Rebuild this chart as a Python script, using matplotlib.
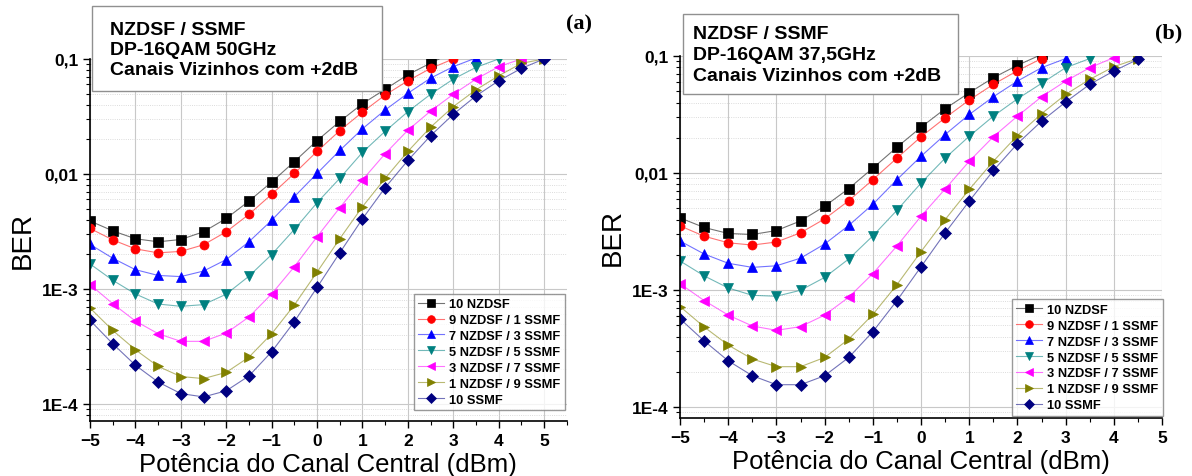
import matplotlib
matplotlib.use("Agg")
import matplotlib.pyplot as plt
from matplotlib.colors import to_rgba
from matplotlib.patches import Rectangle
from matplotlib.ticker import FixedLocator, LogLocator, NullFormatter, MultipleLocator

plt.rcParams['font.family'] = ['Liberation Sans', 'DejaVu Sans']

power = [-5, -4.5, -4, -3.5, -3, -2.5, -2, -1.5, -1, -0.5, 0, 0.5, 1, 1.5, 2, 2.5, 3, 3.5, 4, 4.5, 5]

series_names = ["10 NZDSF", "9 NZDSF / 1 SSMF", "7 NZDSF / 3 SSMF", "5 NZDSF / 5 SSMF",
                "3 NZDSF / 7 SSMF", "1 NZDSF / 9 SSMF", "10 SSMF"]
colors = ['black', 'red', 'blue', '#008080', 'magenta', '#808000', '#000080']
markers = ['s', 'o', '^', 'v', '<', '>', 'D']

# (a) DP-16QAM 50GHz
ber_a_10nz = [3.9e-3, 3.2e-3, 2.73e-3, 2.57e-3, 2.69e-3, 3.14e-3, 4.1e-3, 5.8e-3, 8.5e-3,
              0.0128, 0.0195, 0.0286, 0.0408, 0.0545, 0.073, 0.092, 0.115]
ber_a_9nz = [3.36e-3, 2.67e-3, 2.23e-3, 2.06e-3, 2.12e-3, 2.42e-3, 3.14e-3, 4.45e-3, 6.65e-3,
             0.0101, 0.0157, 0.0238, 0.0345, 0.0486, 0.0646, 0.0828, 0.1]
ber_a_7nz = [2.44e-3, 1.85e-3, 1.47e-3, 1.31e-3, 1.28e-3, 1.43e-3, 1.80e-3, 2.57e-3, 3.95e-3,
             6.34e-3, 0.0101, 0.016, 0.0247, 0.036, 0.0503, 0.0681, 0.0857, 0.102]
ber_a_5nz = [1.65e-3, 1.19e-3, 9.04e-4, 7.39e-4, 7.06e-4, 7.3e-4, 9.0e-4, 1.29e-3, 1.99e-3,
             3.29e-3, 5.62e-3, 9.16e-3, 0.0154, 0.0235, 0.0348, 0.0493, 0.0668, 0.0845, 0.1]
ber_a_3nz = [1.09e-3, 7.45e-4, 5.26e-4, 4.08e-4, 3.5e-4, 3.5e-4, 4.13e-4, 5.7e-4, 9.04e-4,
             1.56e-3, 2.84e-3, 5.08e-3, 8.87e-3, 0.015, 0.024, 0.0352, 0.0493, 0.0668, 0.0857, 0.1]
ber_a_1nz = [6.83e-4, 4.36e-4, 2.96e-4, 2.12e-4, 1.73e-4, 1.66e-4, 1.88e-4, 2.55e-4, 4.07e-4,
             7.25e-4, 1.40e-3, 2.73e-3, 5.19e-3, 9.16e-3, 0.0157, 0.0255, 0.0385, 0.0539, 0.0714,
             0.0916, 0.1]
ber_a_10ss = [5.33e-4, 3.34e-4, 2.17e-4, 1.55e-4, 1.23e-4, 1.15e-4, 1.30e-4, 1.75e-4, 2.84e-4,
              5.19e-4, 1.03e-3, 2.06e-3, 4.07e-3, 7.6e-3, 0.0131, 0.0215, 0.033, 0.0477, 0.0646,
              0.0828, 0.1]

# (b) DP-16QAM 37,5GHz
ber_b_10nz = [4.13e-3, 3.42e-3, 3.04e-3, 2.98e-3, 3.22e-3, 3.89e-3, 5.19e-3, 7.36e-3, 0.011,
              0.0166, 0.0246, 0.0354, 0.0485, 0.0652, 0.0832, 0.103]
ber_b_9nz = [3.53e-3, 2.88e-3, 2.53e-3, 2.42e-3, 2.57e-3, 3.08e-3, 4.05e-3, 5.79e-3, 8.77e-3,
             0.0134, 0.0204, 0.0296, 0.042, 0.0572, 0.0748, 0.095]
ber_b_7nz = [2.62e-3, 2.03e-3, 1.69e-3, 1.56e-3, 1.61e-3, 1.87e-3, 2.47e-3, 3.56e-3, 5.4e-3,
             8.77e-3, 0.0139, 0.0213, 0.0316, 0.0448, 0.061, 0.0794, 0.095]
ber_b_5nz = [1.77e-3, 1.32e-3, 1.04e-3, 9.0e-4, 8.84e-4, 9.94e-4, 1.28e-3, 1.84e-3, 2.9e-3,
             4.8e-3, 8.2e-3, 0.0134, 0.0206, 0.0306, 0.043, 0.0583, 0.0794, 0.095]
ber_b_3nz = [1.13e-3, 8.12e-4, 6.1e-4, 4.92e-4, 4.52e-4, 4.86e-4, 6.1e-4, 8.67e-4, 1.38e-3,
             2.38e-3, 4.27e-3, 7.3e-3, 0.0126, 0.0204, 0.0306, 0.0448, 0.061, 0.0794, 0.0968]
ber_b_1nz = [7.22e-4, 4.83e-4, 3.38e-4, 2.57e-4, 2.21e-4, 2.21e-4, 2.65e-4, 3.8e-4, 6.18e-4,
             1.11e-3, 2.13e-3, 4.0e-3, 7.23e-3, 0.0126, 0.0209, 0.0321, 0.0469, 0.0631, 0.081, 0.095]
ber_b_10ss = [5.67e-4, 3.67e-4, 2.48e-4, 1.85e-4, 1.55e-4, 1.55e-4, 1.85e-4, 2.65e-4, 4.4e-4,
              8.12e-4, 1.58e-3, 3.08e-3, 5.75e-3, 0.0105, 0.0178, 0.0277, 0.0404, 0.0572, 0.0744,
              0.0936]

ber_a = [ber_a_10nz, ber_a_9nz, ber_a_7nz, ber_a_5nz, ber_a_3nz, ber_a_1nz, ber_a_10ss]
ber_b = [ber_b_10nz, ber_b_9nz, ber_b_7nz, ber_b_5nz, ber_b_3nz, ber_b_1nz, ber_b_10ss]

fig = plt.figure(figsize=(11.92, 4.77), dpi=100)
ax_a = fig.add_axes([0.0755, 0.1153, 0.400, 0.759])
ax_b = fig.add_axes([0.5705, 0.1216, 0.4044, 0.759])


def draw_panel(ax, data, title, tag, xmax, ymin, box_rect, text_xy, spacing, tag_xy, leg_anchor):
    for vals, name, c, m in zip(data, series_names, colors, markers):
        ax.plot(power[:len(vals)], vals, color=to_rgba(c, 0.55), marker=m, markersize=6.5,
                lw=0.8, label=name, mfc=c, mec=c, markeredgewidth=0.5)
    ax.set_yscale('log')
    ax.set_xlim(-5, xmax)
    ax.set_ylim(ymin, 0.1)
    ax.yaxis.set_major_locator(FixedLocator([1e-4, 1e-3, 1e-2, 1e-1]))
    ax.set_yticklabels(['1E-4', '1E-3', '0,01', '0,1'])
    ax.yaxis.set_minor_locator(LogLocator(base=10, subs=range(2, 10)))
    ax.yaxis.set_minor_formatter(NullFormatter())
    ax.xaxis.set_major_locator(MultipleLocator(1))
    ax.xaxis.set_minor_locator(MultipleLocator(0.5))
    ax.tick_params(which='major', labelsize=12.5, length=5, width=1)
    ax.tick_params(which='minor', length=3, width=0.8)
    for lab in ax.get_xticklabels() + ax.get_yticklabels():
        lab.set_fontweight('bold')
    ax.grid(which='major', color='#c8c8c8', lw=0.8)
    ax.grid(which='minor', axis='y', color='#d0d0d0', lw=0.6, linestyle=':')
    ax.set_axisbelow(True)
    ax.spines['top'].set_visible(False)
    ax.spines['right'].set_visible(False)
    for s in ['left', 'bottom']:
        ax.spines[s].set_linewidth(1.2)
    ax.set_xlabel("Potência do Canal Central (dBm)", fontsize=18.5, labelpad=3)
    ax.set_ylabel("BER", fontsize=20, labelpad=4)
    fig.patches.append(Rectangle(box_rect[:2], box_rect[2], box_rect[3], transform=fig.transFigure,
                                 fc='white', ec='#909090', lw=1, zorder=5))
    fig.text(text_xy[0], text_xy[1], title, fontsize=14, fontweight='bold', va='top',
             ha='left', linespacing=spacing, zorder=6)
    fig.text(tag_xy[0], tag_xy[1], tag, fontsize=16, fontweight='bold',
             family='Liberation Serif', ha='center', va='center')
    leg = ax.legend(loc='lower right', bbox_to_anchor=leg_anchor, borderaxespad=0,
                    prop={'weight': 'bold', 'size': 9.3}, frameon=True, fancybox=False,
                    edgecolor='#808080', handlelength=2.0, labelspacing=0.3,
                    borderpad=0.35, handletextpad=0.4, markerscale=0.85)
    leg.get_frame().set_linewidth(1)


draw_panel(ax_a, ber_a, "NZDSF / SSMF\nDP-16QAM 50GHz\nCanais Vizinhos com +2dB", "(a)",
           5.5, 7.1e-5, (0.0772, 0.807, 0.2433, 0.178), (0.0923, 0.953), 1.22,
           (0.486, 0.948), (0.996, 0.03))
draw_panel(ax_b, ber_b, "NZDSF / SSMF\nDP-16QAM 37,5GHz\nCanais Vizinhos com +2dB", "(b)",
           5.0, 8.05e-5, (0.573, 0.8008, 0.2307, 0.1677), (0.5814, 0.945), 1.3,
           (0.98, 0.93), (1.002, 0.006))

fig.savefig("out.png", dpi=100)
